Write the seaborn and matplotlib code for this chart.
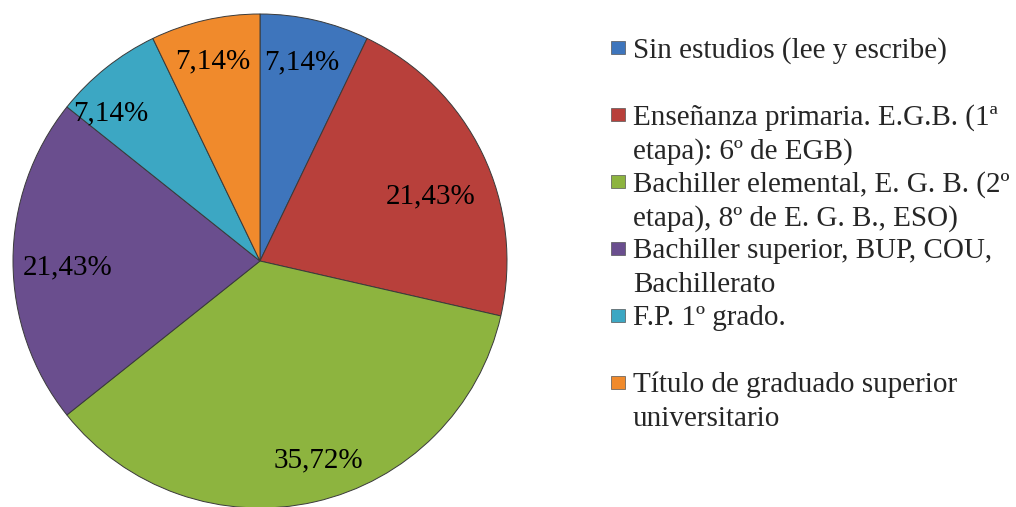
import matplotlib
matplotlib.use("Agg")
import matplotlib.pyplot as plt
import seaborn as sns
import numpy as np
from matplotlib.patches import Rectangle

# datos del gráfico
categorias = [
    "Sin estudios (lee y escribe)",
    "Enseñanza primaria. E.G.B. (1ª\netapa): 6º de EGB)",
    "Bachiller elemental, E. G. B. (2º\netapa), 8º de E. G. B., ESO)",
    "Bachiller superior, BUP, COU,\nBachillerato",
    "F.P. 1º grado.",
    "Título de graduado superior\nuniversitario",
]
porcentajes = [7.14, 21.43, 35.72, 21.43, 7.14, 7.14]
colores = ["#3E75BC", "#B8403B", "#8DB43F", "#6A4E8E", "#3CA7C3", "#F08A2C"]

# colocación de las etiquetas ("mejor ajuste" de Excel)
dist_etiqueta = [0.82, 0.74, 0.84, 0.78, 0.85, 0.83]
giro_etiqueta = [1, -5, 3.4, 2, 6.8, 0.4]

sns.set_theme(style="white")
plt.rcParams['font.family'] = ['Liberation Serif', 'DejaVu Serif']

W, H = 1016, 507
fig = plt.figure(figsize=(W / 100, H / 100), dpi=100)

# posición de la tarta en píxeles
cx, cy, r = 260, 261, 247
ax = fig.add_axes([(cx - r) / W, (H - cy - r) / H, 2 * r / W, 2 * r / H])

wedges, textos, autotextos = ax.pie(
    porcentajes,
    colors=colores,
    startangle=90,
    counterclock=False,
    autopct=lambda p: f"{p:.2f}".replace('.', ',') + "%",
    pctdistance=0.82,
    wedgeprops=dict(edgecolor="#3a3a3a", linewidth=0.7),
    textprops=dict(fontsize=21, color="black"),
)
for w, t, d, g in zip(wedges, autotextos, dist_etiqueta, giro_etiqueta):
    ang = np.deg2rad((w.theta1 + w.theta2) / 2 + g)
    t.set_position((d * np.cos(ang), d * np.sin(ang)))

ax.set_xlim(-1, 1)
ax.set_ylim(-1, 1)
ax.set_aspect('equal')
ax.axis('off')

# leyenda manual (cada entrada ocupa dos líneas)
y0, paso, interlinea = 47, 67, 34.5
for i, (cat, col) in enumerate(zip(categorias, colores)):
    y = y0 + i * paso
    fig.patches.append(Rectangle((611 / W, (H - y - 7) / H), 14 / W, 13 / H,
                                 transform=fig.transFigure, facecolor=col,
                                 edgecolor="#555555", linewidth=0.5))
    for j, linea in enumerate(cat.split("\n")):
        fig.text(633 / W, (H - y - j * interlinea) / H, linea, fontsize=21,
                 va='center_baseline', ha='left')

plt.savefig("out.png", dpi=100)
